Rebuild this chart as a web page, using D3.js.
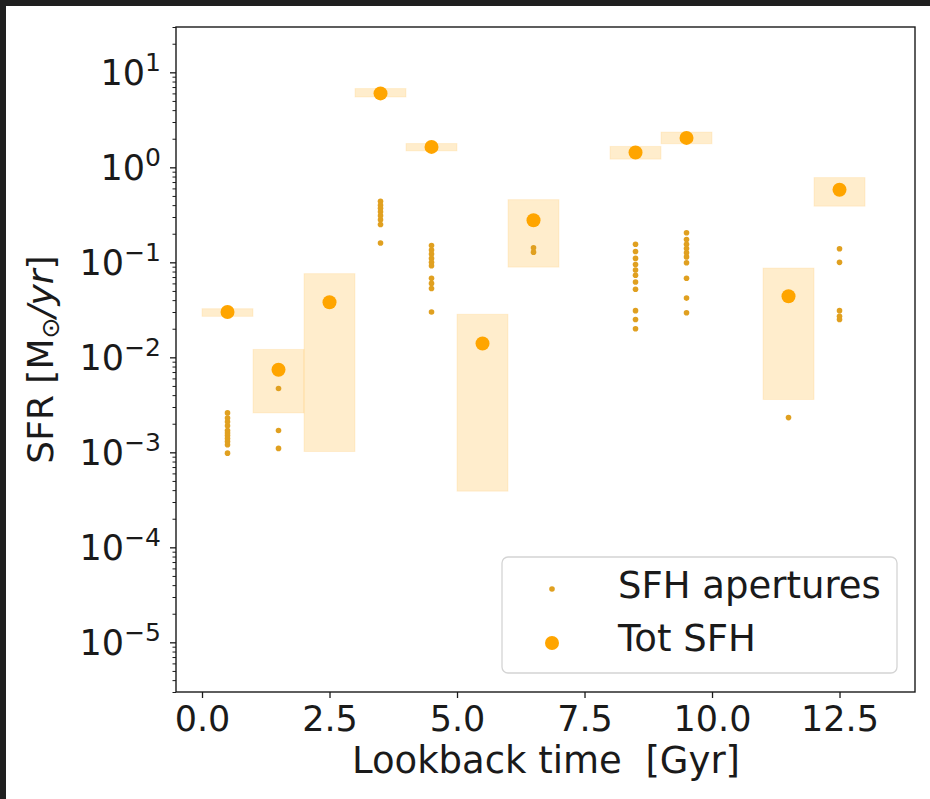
<!DOCTYPE html>
<html>
<head>
<meta charset="utf-8">
<script src="https://cdn.jsdelivr.net/npm/d3@7"></script>
<style>
  html, body { margin: 0; padding: 0; background: #ffffff; }
  svg { display: block; font-family: "DejaVu Sans", sans-serif; }
</style>
</head>
<body>
<svg id="chart" width="930" height="799"></svg>
<script>
// Lookback-time bins (Gyr)
const binStart  = [0, 1, 2, 3, 4, 5, 6, 8, 9, 11, 12];
const binEnd    = [1, 2, 3, 4, 5, 6, 7, 9, 10, 12, 13];
const binCenter = [0.5, 1.5, 2.5, 3.5, 4.5, 5.5, 6.5, 8.5, 9.5, 11.5, 12.5];

// Total SFH: star formation rate per bin and its range (Msun/yr)
const totSFR  = [0.030, 0.0074, 0.038, 6.0, 1.64, 0.014, 0.277, 1.43, 2.04, 0.044, 0.58];
const sfrLow  = [0.027, 0.0026, 0.00102, 5.5, 1.49, 0.00039, 0.089, 1.22, 1.77, 0.0036, 0.39];
const sfrHigh = [0.0325, 0.0121, 0.076, 6.75, 1.78, 0.0284, 0.457, 1.66, 2.35, 0.087, 0.78];

// SFR of the individual apertures in each bin (Msun/yr)
const apertureSFR = [
  [0.0026, 0.0023, 0.0021, 0.0019, 0.0017, 0.0016, 0.0015, 0.0014, 0.0013, 0.0012, 0.00098],
  [0.0047, 0.0017, 0.0011],
  [],
  [0.44, 0.40, 0.37, 0.34, 0.31, 0.28, 0.25, 0.16],
  [0.15, 0.135, 0.122, 0.11, 0.10, 0.092, 0.068, 0.06, 0.053, 0.030],
  [],
  [0.142, 0.128],
  [0.155, 0.13, 0.11, 0.095, 0.083, 0.073, 0.062, 0.052, 0.031, 0.025, 0.020],
  [0.205, 0.174, 0.155, 0.14, 0.126, 0.114, 0.099, 0.068, 0.042, 0.0295],
  [0.00232],
  [0.139, 0.10, 0.031, 0.027, 0.025]
];

// Axis ticks
const xTicks = [0, 2.5, 5, 7.5, 10, 12.5];
const xTickLabels = ["0.0", "2.5", "5.0", "7.5", "10.0", "12.5"];
const yTickExps = [-5, -4, -3, -2, -1, 0, 1];

const svg = d3.select("#chart");
const W = 930, H = 799;
const plot = { left: 176, right: 915, top: 27, bottom: 692 };
const ORANGE = "#ffa500";
const AP_COLOR = "#e0a020";
const INK = "#1a1a1a";

// window frame
svg.append("rect").attr("x", 0).attr("y", 0).attr("width", W).attr("height", H).attr("fill", "#ffffff");
svg.append("rect").attr("x", 0).attr("y", 0).attr("width", W).attr("height", 6).attr("fill", "#1f1f1f");
svg.append("rect").attr("x", 0).attr("y", 0).attr("width", 6).attr("height", H).attr("fill", "#1f1f1f");

const x = d3.scaleLinear().domain([-0.51, 13.98]).range([plot.left, plot.right]);
const y = d3.scaleLog().domain([3e-6, 30]).range([plot.bottom, plot.top]);

// ranges as shaded boxes
const bins = binCenter.map((c, i) => ({ c, s: binStart[i], e: binEnd[i], v: totSFR[i], lo: sfrLow[i], hi: sfrHigh[i], ap: apertureSFR[i] }));

svg.append("g").selectAll("rect").data(bins).join("rect")
  .attr("x", d => x(d.s))
  .attr("width", d => x(d.e) - x(d.s))
  .attr("y", d => y(d.hi))
  .attr("height", d => y(d.lo) - y(d.hi))
  .attr("fill", ORANGE).attr("fill-opacity", 0.2)
  .attr("stroke", ORANGE).attr("stroke-opacity", 0.12).attr("stroke-width", 1);

// aperture points
const apPts = bins.flatMap(d => d.ap.map(v => ({ c: d.c, v })));
svg.append("g").selectAll("circle").data(apPts).join("circle")
  .attr("cx", d => x(d.c)).attr("cy", d => y(d.v)).attr("r", 2.8)
  .attr("fill", AP_COLOR);

// total SFH points
svg.append("g").selectAll("circle").data(bins).join("circle")
  .attr("cx", d => x(d.c)).attr("cy", d => y(d.v)).attr("r", 7)
  .attr("fill", ORANGE);

// axes
const xAxis = d3.axisBottom(x).tickValues(xTicks).tickSize(6).tickFormat((d, i) => xTickLabels[i]);
const gx = svg.append("g").attr("transform", `translate(0,${plot.bottom})`).call(xAxis);
gx.select(".domain").remove();
gx.selectAll(".tick line").attr("stroke", INK).attr("stroke-width", 1.3);
gx.selectAll(".tick text").attr("fill", INK).attr("font-size", 35).attr("font-family", "DejaVu Sans").attr("dy", null).attr("y", 39);

const majorVals = yTickExps.map(e => Math.pow(10, e));
const minorVals = [];
for (let e = -6; e <= 1; e++) for (let m = 2; m <= 9; m++) {
  const v = m * Math.pow(10, e);
  if (v >= 3e-6 && v <= 30) minorVals.push(v);
}
const gyMinor = svg.append("g").attr("transform", `translate(${plot.left},0)`)
  .call(d3.axisLeft(y).tickValues(minorVals).tickSize(3.5).tickFormat(""));
gyMinor.select(".domain").remove();
gyMinor.selectAll(".tick line").attr("stroke", INK).attr("stroke-width", 1);

const gy = svg.append("g").attr("transform", `translate(${plot.left},0)`)
  .call(d3.axisLeft(y).tickValues(majorVals).tickSize(6).tickFormat(""));
gy.select(".domain").remove();
gy.selectAll(".tick line").attr("stroke", INK).attr("stroke-width", 1.3);

// y tick labels as 10^n
const supMap = e => (e < 0 ? "\u2212" : "") + Math.abs(e);
const yl = svg.append("g");
yTickExps.forEach(e => {
  const t = yl.append("text")
    .attr("x", 161).attr("y", y(Math.pow(10, e)) + 13)
    .attr("text-anchor", "end").attr("fill", INK)
    .attr("font-size", 35);
  t.append("tspan").text("10");
  t.append("tspan").attr("dy", -14).attr("font-size", 25).text(supMap(e));
});

// frame
svg.append("rect")
  .attr("x", plot.left).attr("y", plot.top)
  .attr("width", plot.right - plot.left).attr("height", plot.bottom - plot.top)
  .attr("fill", "none").attr("stroke", INK).attr("stroke-width", 1.4);

// axis titles
svg.append("text")
  .attr("x", 546).attr("y", 773)
  .attr("text-anchor", "middle").attr("fill", INK).attr("font-size", 37)
  .text("Lookback time\u00a0\u00a0[Gyr]");

const ylab = svg.append("text")
  .attr("transform", `translate(53,${(plot.top + plot.bottom) / 2}) rotate(-90)`)
  .attr("text-anchor", "middle").attr("fill", INK).attr("font-size", 36);
ylab.append("tspan").text("SFR [M");
ylab.append("tspan").attr("font-size", 25).attr("dy", 6).text("\u2299");
ylab.append("tspan").attr("dy", -6).attr("font-style", "italic").text("/yr");
ylab.append("tspan").text("]");

// legend
const lg = svg.append("g");
lg.append("rect")
  .attr("x", 502).attr("y", 557).attr("width", 395).attr("height", 116)
  .attr("rx", 6).attr("fill", "#ffffff").attr("fill-opacity", 0.8)
  .attr("stroke", "#d4d4d4").attr("stroke-width", 1.3);
lg.append("circle").attr("cx", 552).attr("cy", 589).attr("r", 2.8).attr("fill", AP_COLOR);
lg.append("circle").attr("cx", 552).attr("cy", 643).attr("r", 7).attr("fill", ORANGE);
lg.append("text").attr("x", 618).attr("y", 598).attr("fill", INK).attr("font-size", 37).text("SFH apertures");
lg.append("text").attr("x", 618).attr("y", 651).attr("fill", INK).attr("font-size", 37).text("Tot SFH");
</script>
</body>
</html>
